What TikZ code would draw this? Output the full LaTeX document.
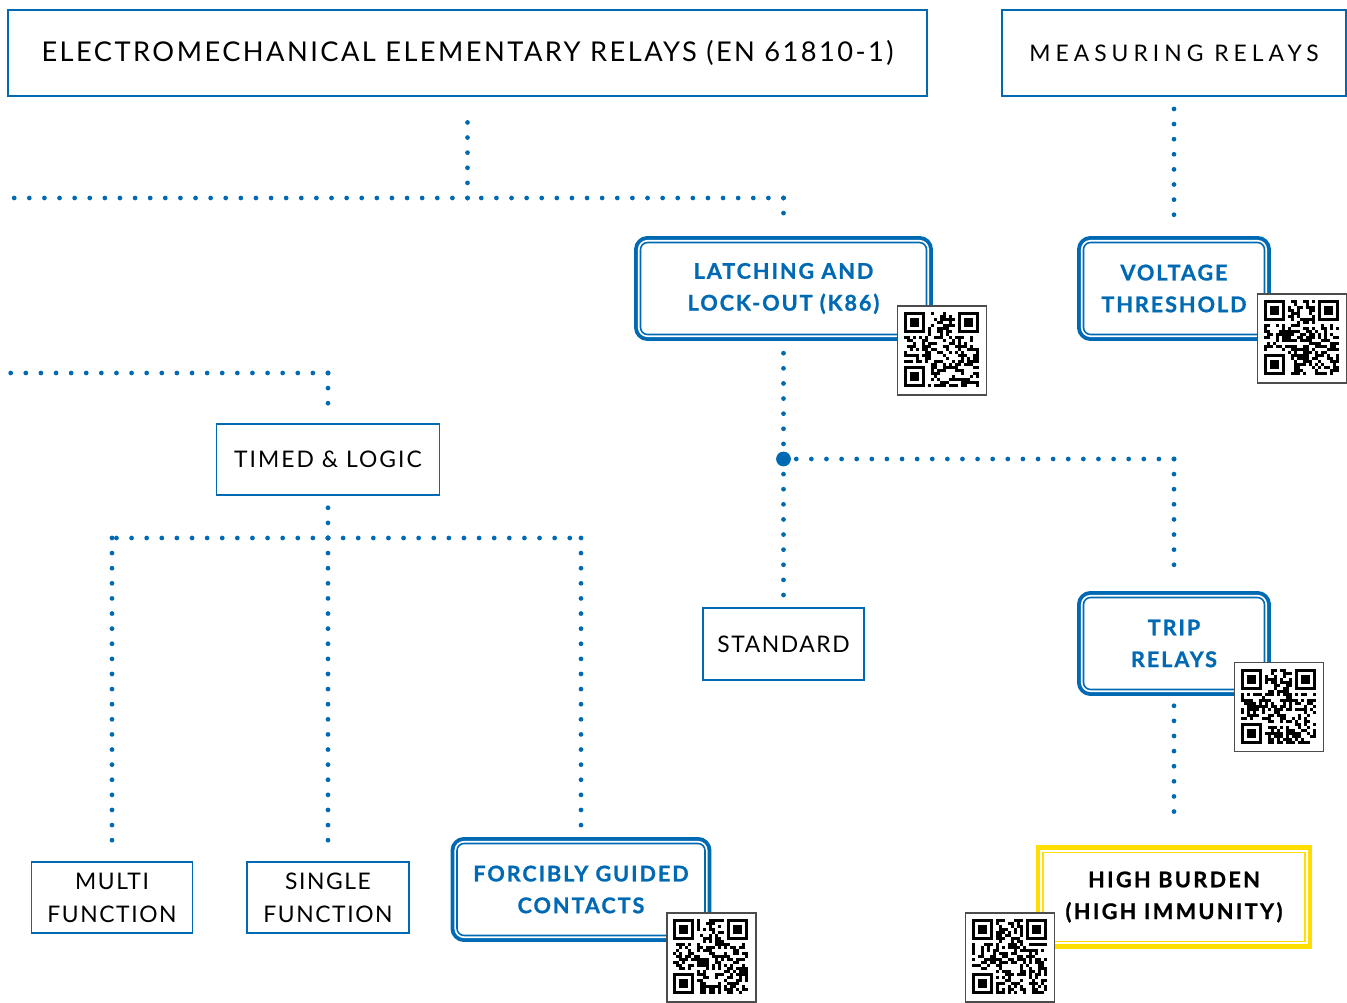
\documentclass[tikz,border=0pt]{standalone}
\usepackage{fontspec}
\setmainfont{Lato}
\usepackage{tikz}
\usetikzlibrary{positioning,calc}
\definecolor{relayblue}{RGB}{0,105,180}
\definecolor{relayyellow}{RGB}{255,222,0}
\newcommand{\plainfont}{\fontsize{13}{18.7}\selectfont\addfontfeature{LetterSpace=7}}
\newcommand{\fancyfont}{\bfseries\fontsize{12.3}{18.1}\selectfont\addfontfeature{LetterSpace=9,FakeBold=1}}
\pgfmathsetseed{4711}
% random modules and three finder squares inside a QR node
\newcommand{\qrpattern}[1]{%
  \begin{scope}[shift={(#1.north west)}, shift={(0.14cm,-0.14cm)}, x=0.06cm, y=-0.06cm]
    \foreach \i in {0,...,24}
      \foreach \j in {0,...,24} {
        \pgfmathtruncatemacro\bit{((\i<8 && \j<8) || (\i>16 && \j<8) || (\i<8 && \j>16)) ? 0 : (rnd<0.5)}
        \ifnum\bit=1 \fill[black] (\i,\j) rectangle ++(1,1); \fi
      }
    \foreach \c in {(0,0),(18,0),(0,18)} {
      \fill[black] \c rectangle ++(7,7);
      \fill[white] \c ++(1,1) rectangle ++(5,5);
      \fill[black] \c ++(2,2) rectangle ++(3,3);
    }
  \end{scope}}

\begin{document}
\begin{tikzpicture}
  [
    x=0.02cm, y=-0.02cm,
    Plain/.style={draw=relayblue, line width=1.1pt, fill=white, align=center, inner sep=0pt, text=black, font=\plainfont},
    Fancy/.style={draw=relayblue, line width=0.9pt, fill=white, rounded corners=4pt, align=center, inner sep=0pt,
      minimum height=1.84cm, text=relayblue, font=\fancyfont,
      preaction={draw=relayblue, line width=7.3pt},
      preaction={draw=white, line width=2.9pt}},
    Yellow/.style={draw=relayyellow, line width=0.75pt, fill=white, align=center, inner sep=0pt, text=black,
      font=\fancyfont\addfontfeature{LetterSpace=11},
      preaction={draw=relayyellow, line width=8.5pt},
      preaction={draw=white, line width=2.9pt}},
    Dots/.style={draw=relayblue, line width=2.7pt, line cap=round, dash pattern=on 0pt off 8.6pt},
    QR/.style={draw=black!70, line width=0.8pt, fill=white, minimum size=1.78cm, inner sep=0pt}
  ]
  \useasboundingbox (0,0) rectangle (1347,1003);
  % Nodes
  \node[Plain, minimum width=18.38cm, minimum height=1.72cm,
    font=\fontsize{15.5}{18}\selectfont\addfontfeature{LetterSpace=9}] (title) at (467.5,53)
    {ELECTROMECHANICAL ELEMENTARY RELAYS (EN 61810-1)};
  \node[Plain, minimum width=6.88cm, minimum height=1.72cm,
    font=\plainfont\addfontfeature{LetterSpace=22}] (meas) at (1174,53) {MEASURING RELAYS};
  \node[Fancy, minimum width=5.72cm] (latch) at (783.5,288.5) {LATCHING AND\\LOCK-OUT (K86)};
  \node[Fancy, minimum width=3.62cm] (volt) at (1174,288.5) {VOLTAGE\\THRESHOLD};
  \node[Plain, minimum width=4.46cm, minimum height=1.42cm,
    font=\plainfont\addfontfeature{LetterSpace=9}] (timed) at (328,459.5) {TIMED \& LOGIC};
  \node[Plain, minimum width=3.22cm, minimum height=1.44cm] (standard) at (783.5,644) {STANDARD};
  \node[Fancy, minimum width=3.62cm] (trip) at (1174,643.5) {TRIP\\RELAYS};
  \node[Plain, minimum width=3.22cm, minimum height=1.42cm] (multi) at (112,897.5) {MULTI\\FUNCTION};
  \node[Plain, minimum width=3.24cm, minimum height=1.42cm] (single) at (328,897.5) {SINGLE\\FUNCTION};
  \node[Fancy, minimum width=4.96cm] (forced) at (581,889.5) {FORCIBLY GUIDED\\CONTACTS};
  \node[Yellow, minimum width=5.24cm, minimum height=1.78cm] (burden) at (1174,897) {HIGH BURDEN\\(HIGH IMMUNITY)};
  % QR codes
  \node[QR] (qrLatch) at (942,350.5) {};
  \node[QR] (qrVolt) at (1302,338.5) {};
  \node[QR] (qrTrip) at (1279,707) {};
  \node[QR] (qrForced) at (711.5,957.5) {};
  \node[QR] (qrBurden) at (1010,957.5) {};
  \foreach \q in {qrLatch,qrVolt,qrTrip,qrForced,qrBurden} {\qrpattern{\q}}
  % Junctions
  \coordinate (jTop) at (467.5,198);
  \coordinate (eTop) at (10,198);
  \coordinate (cLatch) at (783.5,198);
  \coordinate (jStd) at (783.5,459);
  \coordinate (cTrip) at (1174,459);
  \coordinate (eMid) at (2,373);
  \coordinate (cTimed) at (328,373);
  \coordinate (jTimed) at (328,538);
  \coordinate (cMulti) at (112,538);
  \coordinate (cForced) at (581,538);
  % Lines
  \draw[Dots] (jTop) -- ([yshift=-0.24cm]title.south);
  \draw[Dots] (jTop) -- (eTop);
  \draw[Dots] (cLatch) -- (jTop);
  \draw[Dots] (cLatch) -- ([yshift=0.35cm]latch.north);
  \draw[Dots] ([yshift=-0.24cm]meas.south) -- ([yshift=0.35cm]volt.north);
  \draw[Dots] (jStd) -- ([yshift=-0.31cm]latch.south);
  \draw[Dots] (jStd) -- ([yshift=0.2cm]standard.north);
  \draw[Dots] (cTrip) -- (jStd);
  \draw[Dots] (cTrip) -- ([yshift=0.45cm]trip.north);
  \draw[Dots] ([yshift=-0.31cm]trip.south) -- ([yshift=0.53cm]burden.north);
  \draw[Dots] (cTimed) -- (eMid);
  \draw[Dots] (cTimed) -- ([yshift=0.22cm]timed.north);
  \draw[Dots] (jTimed) -- ([yshift=-0.22cm]timed.south);
  \draw[Dots] (jTimed) -- (cMulti);
  \draw[Dots] (jTimed) -- (cForced);
  \draw[Dots] (jTimed) -- ([yshift=0.24cm]single.north);
  \draw[Dots] (cMulti) -- ([yshift=0.22cm]multi.north);
  \draw[Dots] (cForced) -- ([yshift=0.35cm]forced.north);
  \fill[relayblue] (jStd) circle (4.2pt);
\end{tikzpicture}
\end{document}
